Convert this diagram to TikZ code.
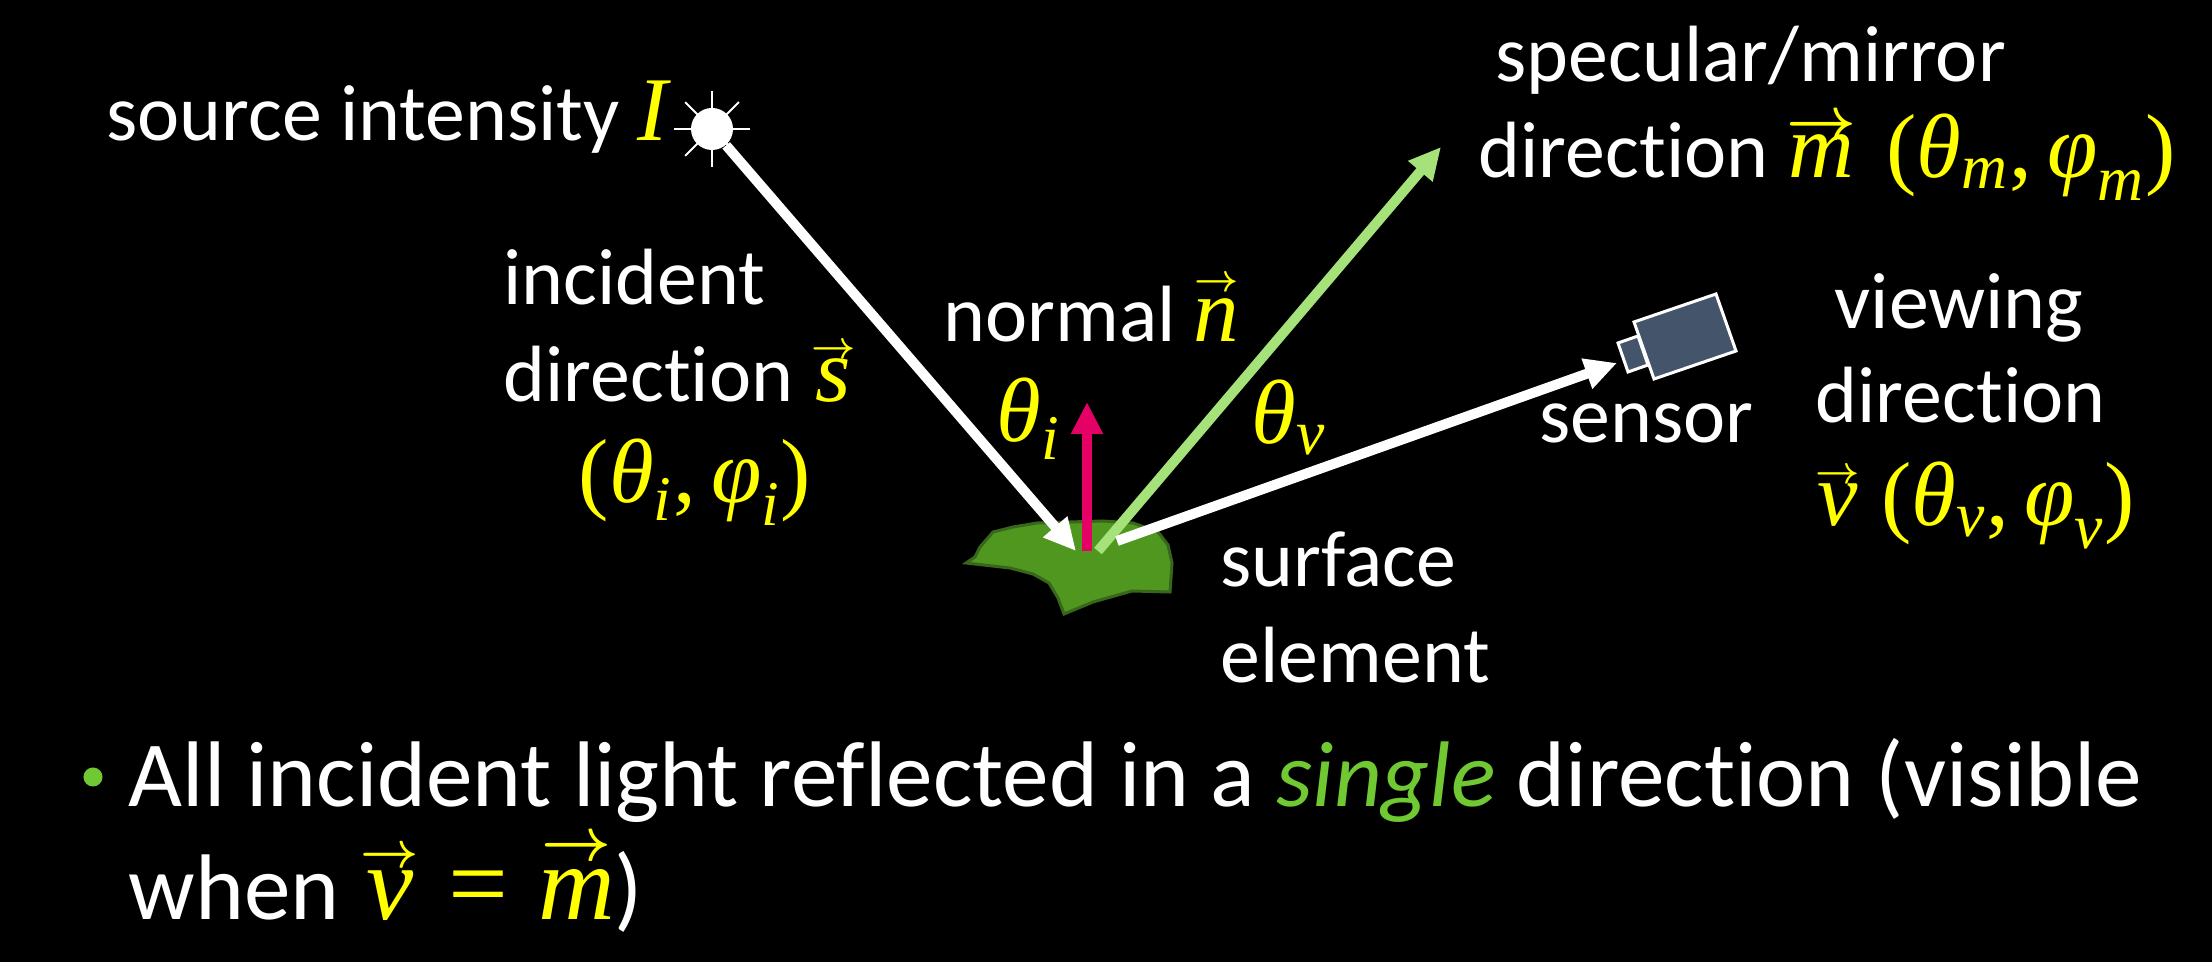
\documentclass[tikz,border=0pt]{standalone}
\usepackage{amsmath}
\usepackage{fontspec}
\setmainfont{Carlito}[Ligatures=NoCommon]
\newfontfamily\symfont{Liberation Serif}[Scale=1.14]
\usetikzlibrary{arrows.meta}
\definecolor{symyellow}{HTML}{FFFF00}
\definecolor{leafgreen}{HTML}{4F971F}
\definecolor{leafedge}{HTML}{38661A}
\definecolor{mirrorgreen}{HTML}{A6E27A}
\definecolor{normalpink}{HTML}{E50065}
\definecolor{camgrey}{HTML}{44546A}
\definecolor{bulletgreen}{HTML}{70C832}
\newcommand{\sym}[1]{\text{\symfont\itshape #1}}
\newcommand{\usym}[1]{\text{\symfont #1}}
\newcommand{\ylw}[1]{\textcolor{symyellow}{$#1$}}
\newcommand{\short}[1]{\overset{\raisebox{-4pt}[0pt][0pt]{\boldmath$\scriptscriptstyle\rightarrow$}}{\sym{#1}}}
\newcommand{\wide}[1]{\overset{\raisebox{-5.5pt}[0pt][0pt]{\boldmath$\scriptstyle\rightarrow$}}{\sym{#1}}}
\tikzset{
	lbl/.style={anchor=base west,inner sep=0pt,text=white,font=\fontsize{22.7}{26}\selectfont},
	bigtxt/.style={anchor=base west,inner sep=0pt,text=white,font=\fontsize{26.5}{32}\selectfont},
	ray/.style={-{Triangle[width=30*0.01cm,length=32*0.01cm]},line width=0.1cm},
	sunray/.style={white,line width=0.02cm},
	campart/.style={draw=white,fill=camgrey,line width=0.03cm}
}
\begin{document}
\begin{tikzpicture}[x=0.01cm,y=-0.01cm]
\fill[black] (0,0) rectangle (2212,962);
\useasboundingbox (0,0) rectangle (2212,962);
% surface patch
\draw[fill=leafgreen,draw=leafedge,line width=0.03cm] (966,563) -- (975,557) -- (980,547) -- (993,532) -- (1013,527) -- (1037,523) -- (1070,522) -- (1103,521) -- (1133,523) -- (1158,532) -- (1168,545) -- (1172,563) -- (1170,592) -- (1132,591) -- (1093,602) -- (1064,614) -- (1058,598) -- (1049,583) -- (1033,574) -- (1010,568) -- cycle;
% source
\node (sun) at (712,129) [circle,fill=white,inner sep=0pt,minimum size=0.42cm] {};
\foreach \a in {0,45,...,315}
	\draw[sunray] (sun.center) -- +(\a:38);
% sensor
\draw[campart] (1618,343) -- (1638,336) -- (1648,365) -- (1628,372) -- cycle;
\draw[campart] (1634,322) -- (1716,294) -- (1736,351) -- (1654,379) -- cycle;
% ends of the rays
\coordinate (hitin) at (1076,551);
\coordinate (normbase) at (1087,551);
\coordinate (normtip) at (1087,402);
\coordinate (mirbase) at (1098,551);
\coordinate (mirtip) at (1441,147);
\coordinate (viewbase) at (1117,541);
\coordinate (viewtip) at (1617,363);
\draw[ray,white] (sun) -- (hitin);
\draw[ray,normalpink] (normbase) -- (normtip);
\draw[ray,mirrorgreen] (mirbase) -- (mirtip);
\draw[ray,white] (viewbase) -- (viewtip);
% labels
\node (srclbl) at (106,141) [lbl] {source intensity \ylw{\sym{I}}};
\node (mirlbla) at (1495,82) [lbl] {specular/mirror};
\node (mirlblb) at (1478,178) [lbl] {direction \ylw{\wide{m}\ \,\usym{(}\sym{θ}_{\sym{m}}\usym{,\,}\sym{φ}_{\sym{m}}\usym{)}}};
\node (inclbla) at (503,305) [lbl] {incident};
\node (inclblb) at (503,402) [lbl] {direction \ylw{\short{s}}};
\node (inclblc) at (578,503) [lbl] {\ylw{\usym{(}\sym{θ}_{\sym{i}}\usym{,\,}\sym{φ}_{\sym{i}}\usym{)}}};
\node (normlbl) at (943,342) [lbl] {normal \ylw{\short{n}}};
\node (thetai) at (996,442) [lbl] {\ylw{\sym{θ}_{\sym{i}}}};
\node (thetav) at (1251,444) [lbl] {\ylw{\sym{θ}_{\sym{v}}}};
\node (surflbla) at (1220,587) [lbl] {surface};
\node (surflblb) at (1220,683) [lbl] {element};
\node (senslbl) at (1539,443) [lbl] {sensor};
\node (viewlbla) at (1834,329) [lbl] {viewing};
\node (viewlblb) at (1815,423) [lbl] {direction};
\node (viewlblc) at (1815,526) [lbl] {\ylw{\short{v}\ \kern1pt\usym{(}\sym{θ}_{\sym{v}}\usym{,\,}\sym{φ}_{\sym{v}}\usym{)}}};
% bullet text
\node (dot) at (93,777) [circle,fill=bulletgreen,inner sep=0pt,minimum size=0.19cm] {};
\node (linea) at (128,807) [bigtxt] {All incident light reflected in a \textcolor{bulletgreen}{\textit{single}} direction (visible};
\node (lineb) at (128,920) [bigtxt] {when \ylw{\short{v}\usym{\,\kern3.4pt=\,\kern3.4pt}\wide{m}})};
\end{tikzpicture}
\end{document}
